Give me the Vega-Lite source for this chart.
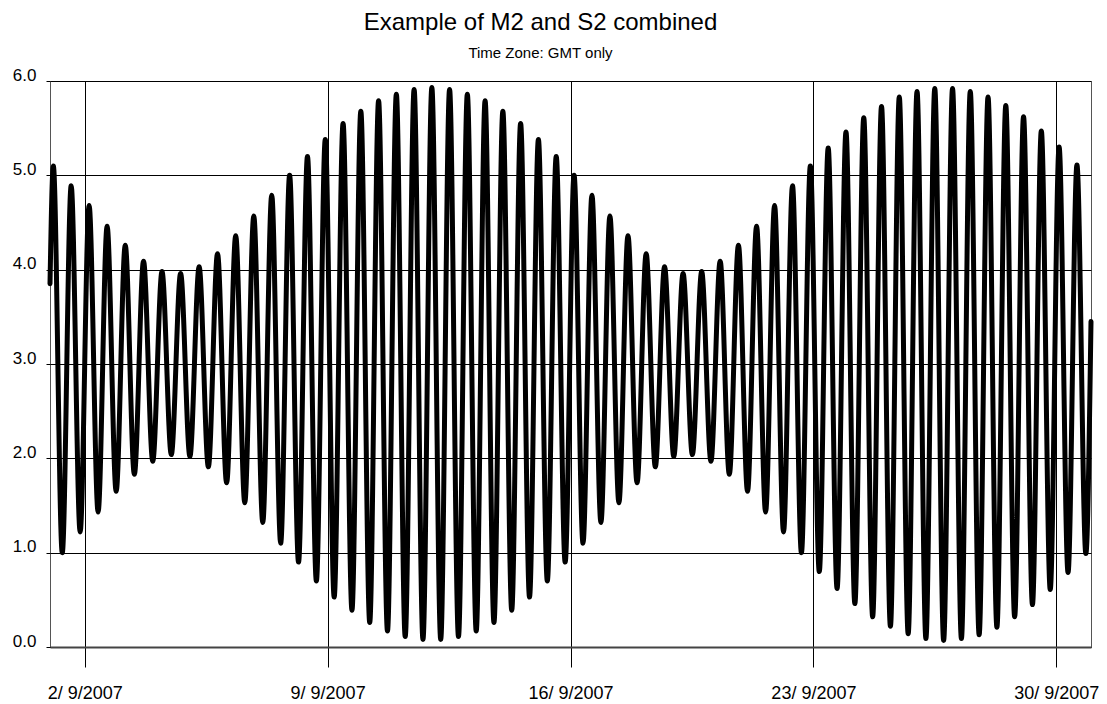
{
  "$schema": "https://vega.github.io/schema/vega-lite/v6.json",
  "autosize": "none",
  "width": 1041,
  "height": 566,
  "padding": {"left": 50, "top": 81, "right": 16, "bottom": 57},
  "background": "white",
  "config": {
    "font": "Liberation Sans",
    "view": {"stroke": "#555555", "strokeWidth": 1}
  },
  "title": {
    "text": "Example of M2 and S2 combined",
    "subtitle": "Time Zone: GMT only",
    "anchor": "middle",
    "frame": "group",
    "dx": -30,
    "fontSize": 24,
    "fontWeight": "normal",
    "color": "#000000",
    "subtitleFontSize": 15,
    "subtitleColor": "#000000",
    "subtitlePadding": 11,
    "offset": 5
  },
  "data": {
    "values": [
      {"t": "2007-09-01T00:00", "h": 3.85},
      {"t": "2007-09-01T02:18", "h": 5.10},
      {"t": "2007-09-01T08:29", "h": 1.00},
      {"t": "2007-09-01T14:39", "h": 4.89},
      {"t": "2007-09-01T20:51", "h": 1.22},
      {"t": "2007-09-02T03:03", "h": 4.68},
      {"t": "2007-09-02T09:16", "h": 1.43},
      {"t": "2007-09-02T15:30", "h": 4.46},
      {"t": "2007-09-02T21:45", "h": 1.65},
      {"t": "2007-09-03T04:03", "h": 4.26},
      {"t": "2007-09-03T10:21", "h": 1.83},
      {"t": "2007-09-03T16:41", "h": 4.09},
      {"t": "2007-09-03T23:04", "h": 1.97},
      {"t": "2007-09-04T05:28", "h": 3.98},
      {"t": "2007-09-04T11:54", "h": 2.04},
      {"t": "2007-09-04T18:20", "h": 3.96},
      {"t": "2007-09-05T00:46", "h": 2.02},
      {"t": "2007-09-05T07:09", "h": 4.03},
      {"t": "2007-09-05T13:32", "h": 1.91},
      {"t": "2007-09-05T19:52", "h": 4.17},
      {"t": "2007-09-06T02:10", "h": 1.74},
      {"t": "2007-09-06T08:27", "h": 4.36},
      {"t": "2007-09-06T14:43", "h": 1.53},
      {"t": "2007-09-06T20:57", "h": 4.57},
      {"t": "2007-09-07T03:10", "h": 1.32},
      {"t": "2007-09-07T09:22", "h": 4.79},
      {"t": "2007-09-07T15:33", "h": 1.10},
      {"t": "2007-09-07T21:44", "h": 5.00},
      {"t": "2007-09-08T03:54", "h": 0.90},
      {"t": "2007-09-08T10:05", "h": 5.20},
      {"t": "2007-09-08T16:14", "h": 0.70},
      {"t": "2007-09-08T22:24", "h": 5.38},
      {"t": "2007-09-09T04:33", "h": 0.53},
      {"t": "2007-09-09T10:42", "h": 5.55},
      {"t": "2007-09-09T16:51", "h": 0.39},
      {"t": "2007-09-09T22:59", "h": 5.68},
      {"t": "2007-09-10T05:08", "h": 0.26},
      {"t": "2007-09-10T11:16", "h": 5.79},
      {"t": "2007-09-10T17:25", "h": 0.17},
      {"t": "2007-09-10T23:33", "h": 5.86},
      {"t": "2007-09-11T05:41", "h": 0.11},
      {"t": "2007-09-11T11:50", "h": 5.91},
      {"t": "2007-09-11T17:58", "h": 0.08},
      {"t": "2007-09-12T00:06", "h": 5.93},
      {"t": "2007-09-12T06:14", "h": 0.08},
      {"t": "2007-09-12T12:22", "h": 5.91},
      {"t": "2007-09-12T18:31", "h": 0.11},
      {"t": "2007-09-13T00:39", "h": 5.86},
      {"t": "2007-09-13T06:47", "h": 0.17},
      {"t": "2007-09-13T12:56", "h": 5.79},
      {"t": "2007-09-13T19:04", "h": 0.26},
      {"t": "2007-09-14T01:13", "h": 5.68},
      {"t": "2007-09-14T07:21", "h": 0.39},
      {"t": "2007-09-14T13:30", "h": 5.55},
      {"t": "2007-09-14T19:39", "h": 0.53},
      {"t": "2007-09-15T01:48", "h": 5.38},
      {"t": "2007-09-15T07:58", "h": 0.70},
      {"t": "2007-09-15T14:07", "h": 5.20},
      {"t": "2007-09-15T20:18", "h": 0.90},
      {"t": "2007-09-16T02:28", "h": 5.00},
      {"t": "2007-09-16T08:39", "h": 1.10},
      {"t": "2007-09-16T14:50", "h": 4.79},
      {"t": "2007-09-16T21:02", "h": 1.32},
      {"t": "2007-09-17T03:15", "h": 4.57},
      {"t": "2007-09-17T09:29", "h": 1.53},
      {"t": "2007-09-17T15:45", "h": 4.36},
      {"t": "2007-09-17T22:02", "h": 1.74},
      {"t": "2007-09-18T04:20", "h": 4.17},
      {"t": "2007-09-18T10:40", "h": 1.91},
      {"t": "2007-09-18T17:03", "h": 4.03},
      {"t": "2007-09-18T23:26", "h": 2.02},
      {"t": "2007-09-19T05:52", "h": 3.96},
      {"t": "2007-09-19T12:18", "h": 2.04},
      {"t": "2007-09-19T18:44", "h": 3.98},
      {"t": "2007-09-20T01:08", "h": 1.97},
      {"t": "2007-09-20T07:31", "h": 4.09},
      {"t": "2007-09-20T13:51", "h": 1.83},
      {"t": "2007-09-20T20:09", "h": 4.26},
      {"t": "2007-09-21T02:27", "h": 1.65},
      {"t": "2007-09-21T08:42", "h": 4.46},
      {"t": "2007-09-21T14:56", "h": 1.43},
      {"t": "2007-09-21T21:09", "h": 4.68},
      {"t": "2007-09-22T03:21", "h": 1.22},
      {"t": "2007-09-22T09:33", "h": 4.89},
      {"t": "2007-09-22T15:43", "h": 1.00},
      {"t": "2007-09-22T21:54", "h": 5.10},
      {"t": "2007-09-23T04:04", "h": 0.80},
      {"t": "2007-09-23T10:14", "h": 5.29},
      {"t": "2007-09-23T16:23", "h": 0.62},
      {"t": "2007-09-23T22:32", "h": 5.46},
      {"t": "2007-09-24T04:41", "h": 0.46},
      {"t": "2007-09-24T10:50", "h": 5.61},
      {"t": "2007-09-24T16:59", "h": 0.32},
      {"t": "2007-09-24T23:07", "h": 5.73},
      {"t": "2007-09-25T05:16", "h": 0.22},
      {"t": "2007-09-25T11:24", "h": 5.83},
      {"t": "2007-09-25T17:33", "h": 0.14},
      {"t": "2007-09-25T23:41", "h": 5.89},
      {"t": "2007-09-26T05:49", "h": 0.09},
      {"t": "2007-09-26T11:57", "h": 5.92},
      {"t": "2007-09-26T18:05", "h": 0.07},
      {"t": "2007-09-27T00:14", "h": 5.92},
      {"t": "2007-09-27T06:22", "h": 0.09},
      {"t": "2007-09-27T12:30", "h": 5.89},
      {"t": "2007-09-27T18:38", "h": 0.13},
      {"t": "2007-09-28T00:47", "h": 5.83},
      {"t": "2007-09-28T06:55", "h": 0.21},
      {"t": "2007-09-28T13:04", "h": 5.74},
      {"t": "2007-09-28T19:12", "h": 0.32},
      {"t": "2007-09-29T01:21", "h": 5.62},
      {"t": "2007-09-29T07:30", "h": 0.45},
      {"t": "2007-09-29T13:39", "h": 5.47},
      {"t": "2007-09-29T19:48", "h": 0.61},
      {"t": "2007-09-30T01:57", "h": 5.30},
      {"t": "2007-09-30T08:07", "h": 0.79},
      {"t": "2007-09-30T14:17", "h": 5.11},
      {"t": "2007-09-30T20:27", "h": 0.99},
      {"t": "2007-10-01T00:00", "h": 3.45}
    ]
  },
  "mark": {"type": "line", "color": "#000000", "strokeWidth": 5, "interpolate": "monotone", "strokeCap": "round", "strokeJoin": "round"},
  "encoding": {
    "x": {
      "field": "t",
      "type": "temporal",
      "title": null,
      "scale": {"domain": [{"year": 2007, "month": 9, "date": 1}, {"year": 2007, "month": 10, "date": 1}]},
      "axis": {
        "values": [
          {"year": 2007, "month": 9, "date": 2},
          {"year": 2007, "month": 9, "date": 9},
          {"year": 2007, "month": 9, "date": 16},
          {"year": 2007, "month": 9, "date": 23},
          {"year": 2007, "month": 9, "date": 30}
        ],
        "labelExpr": "timeFormat(datum.value, '%-d/ %-m/%Y')",
        "grid": true,
        "gridColor": "#000000",
        "gridWidth": 1,
        "gridOpacity": 1,
        "domain": true,
        "domainColor": "#444444",
        "domainWidth": 2,
        "ticks": true,
        "tickSize": 20,
        "tickColor": "#000000",
        "tickWidth": 1,
        "labelFontSize": 18,
        "labelColor": "#000000",
        "labelPadding": 17,
        "labelFont": "Liberation Sans"
      }
    },
    "y": {
      "field": "h",
      "type": "quantitative",
      "title": null,
      "scale": {"domain": [0, 6], "nice": false, "zero": false},
      "axis": {
        "values": [0, 1, 2, 3, 4, 5, 6],
        "format": ".1f",
        "grid": true,
        "gridColor": "#000000",
        "gridWidth": 1,
        "gridOpacity": 1,
        "domain": false,
        "ticks": true,
        "tickSize": 4,
        "tickColor": "#000000",
        "labelFontSize": 17,
        "labelColor": "#000000",
        "labelPadding": 10,
        "labelOffset": -6,
        "labelFont": "Liberation Sans"
      }
    }
  }
}
